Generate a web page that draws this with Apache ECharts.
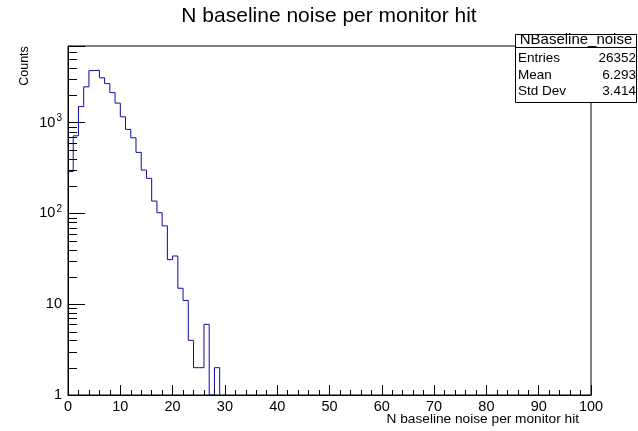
<!DOCTYPE html>
<html>
<head>
<meta charset="utf-8">
<script src="https://cdn.jsdelivr.net/npm/echarts@6/dist/echarts.min.js"></script>
<style>
  html, body { margin: 0; padding: 0; background: #fff; }
  #chart { width: 638px; height: 431px; }
</style>
</head>
<body>
<div id="chart"></div>
<script>
// Histogram: N baseline noise per monitor hit (1-unit bins starting at 0; trailing empty bins omitted)
const binLow = 0;
const binWidth = 1;
const counts = [289, 717, 1504, 2485, 3750, 3780, 3123, 2697, 2146, 1644,
                1161, 844, 682, 471, 301, 244, 137, 102, 73, 31,
                34, 15, 11, 4, 2, 2, 6, 0, 2];

// Axis ranges and tick labels
const xRange = [0, 100];
const yRange = [1, 7000];
const yTickLabels = { 1: '1', 10: '10', 100: '10{s|2}', 1000: '10{s|3}' };
// Log-axis secondary ticks (2..9 per decade)
const yMinorTicks = [2, 3, 4, 5, 6, 7, 8, 9, 20, 30, 40, 50, 60, 70, 80, 90,
                     200, 300, 400, 500, 600, 700, 800, 900, 2000, 3000, 4000, 5000, 6000, 7000];

// Statistics box contents
const statsName = 'NBaseline_noise';
const statsRows = [['Entries', '26352'], ['Mean', '6.293'], ['Std Dev', '3.414']];

const FONT = 'Liberation Sans, Arial, Helvetica, sans-serif';

// Outline of the histogram as step points; empty bins sit on the axis floor
const stepData = counts.map((c, i) => [binLow + i * binWidth, Math.max(c, yRange[0])]);
const lastEdge = binLow + counts.length * binWidth;
stepData.push([lastEdge, Math.max(counts[counts.length - 1], yRange[0])]);
stepData.push([lastEdge, yRange[0]]);

const chart = echarts.init(document.getElementById('chart'), null, { renderer: 'canvas' });

const statsGraphics = [
  { type: 'rect', shape: { x: 515.5, y: 34.5, width: 121, height: 68 },
    style: { fill: '#fff', stroke: '#000', lineWidth: 1 }, z: 100 },
  { type: 'line', shape: { x1: 515.5, y1: 47.5, x2: 636.5, y2: 47.5 },
    style: { stroke: '#000', lineWidth: 1 }, z: 101 },
  { type: 'text', x: 576, y: 40, z: 101,
    style: { text: statsName, fontFamily: FONT, fontSize: 15, fill: '#000', align: 'center', verticalAlign: 'middle' } }
];
const rowY = [58.5, 75, 91.5];
statsRows.forEach((r, i) => {
  statsGraphics.push({ type: 'text', x: 518, y: rowY[i], z: 101,
    style: { text: r[0], fontFamily: FONT, fontSize: 13.5, fill: '#000', align: 'left', verticalAlign: 'middle' } });
  statsGraphics.push({ type: 'text', x: 636, y: rowY[i], z: 101,
    style: { text: r[1], fontFamily: FONT, fontSize: 13.5, fill: '#000', align: 'right', verticalAlign: 'middle' } });
});

const option = {
  animation: false,
  backgroundColor: '#fff',
  title: {
    text: 'N baseline noise per monitor hit',
    left: 329, top: 6, padding: 0, textAlign: 'center',
    textStyle: { fontFamily: FONT, fontSize: 21, fontWeight: 'normal', color: '#000' }
  },
  grid: {
    left: 68, right: 47, top: 46, bottom: 36,
    show: true, borderColor: '#000', borderWidth: 1, backgroundColor: 'transparent'
  },
  xAxis: {
    type: 'value', min: xRange[0], max: xRange[1], interval: 10, z: 5,
    axisLine: { show: true, onZero: false, lineStyle: { color: '#000', width: 1 } },
    axisTick: { show: true, inside: true, length: 10, lineStyle: { color: '#000' } },
    minorTick: { show: true, splitNumber: 5, length: 5, lineStyle: { color: '#000' } },
    splitLine: { show: false },
    axisLabel: { fontFamily: FONT, fontSize: 14.5, color: '#000', margin: 4 }
  },
  yAxis: {
    type: 'log', logBase: 10, min: yRange[0], max: yRange[1], z: 5,
    axisLine: { show: true, lineStyle: { color: '#000', width: 1 } },
    axisTick: { show: true, inside: true, length: 17, lineStyle: { color: '#000' } },
    minorTick: { show: false },
    splitLine: { show: false },
    axisLabel: {
      fontFamily: FONT, fontSize: 14.5, color: '#000', margin: 6,
      formatter: v => yTickLabels[Math.round(v)] || '',
      rich: { s: { fontFamily: FONT, fontSize: 10, color: '#000', verticalAlign: 'top', padding: [0, 0, 8, 1] } }
    }
  },
  series: [
    {
      name: 'NBaseline_noise',
      type: 'line',
      step: 'end',
      data: stepData,
      symbol: 'none',
      clip: true,
      lineStyle: { color: '#0c0ca8', width: 1 },
      z: 2
    },
    {
      // secondary ticks of the logarithmic y axis
      type: 'custom',
      data: yMinorTicks.map(v => [xRange[0], v]),
      encode: { x: 0, y: 1 },
      z: 6,
      silent: true,
      renderItem: (params, api) => {
        const p = api.coord([api.value(0), api.value(1)]);
        const y = Math.round(p[1]) + 0.5;
        return {
          type: 'line',
          shape: { x1: p[0], y1: y, x2: p[0] + 9, y2: y },
          style: { stroke: '#000', lineWidth: 1 }
        };
      }
    }
  ],
  graphic: [
    { type: 'text', x: 579, y: 419,
      style: { text: 'N baseline noise per monitor hit', fontFamily: FONT, fontSize: 13.7, fill: '#000', align: 'right', verticalAlign: 'middle' } },
    { type: 'text', x: 25, y: 66, rotation: Math.PI / 2,
      style: { text: 'Counts', fontFamily: FONT, fontSize: 12.5, fill: '#000', align: 'center', verticalAlign: 'middle' } }
  ].concat(statsGraphics)
};

chart.setOption(option);
</script>
</body>
</html>
